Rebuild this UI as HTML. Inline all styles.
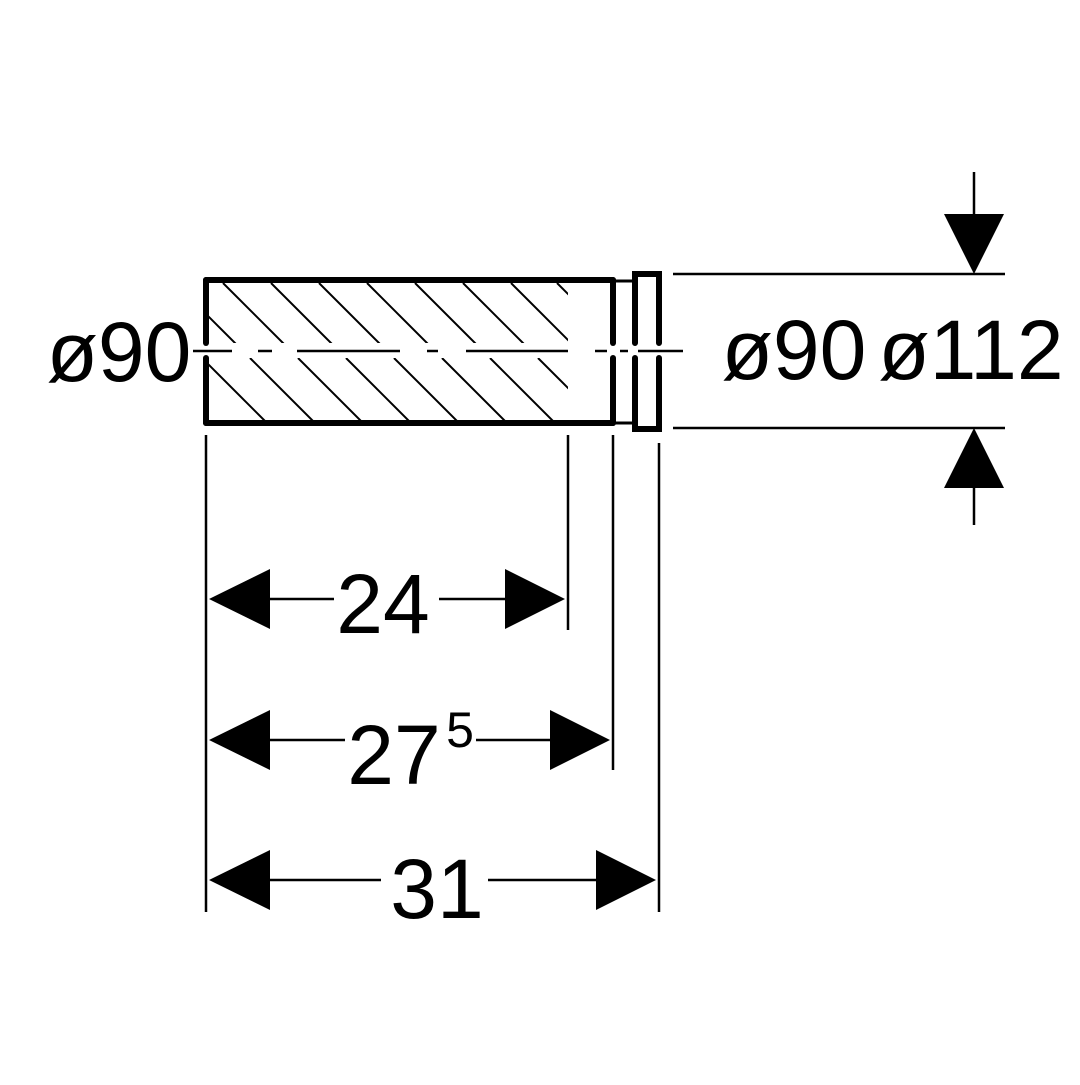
<!DOCTYPE html>
<html><head><meta charset="utf-8"><style>html,body{margin:0;padding:0;background:#fff}</style></head>
<body>
<svg width="1080" height="1080" viewBox="0 0 1080 1080" xmlns="http://www.w3.org/2000/svg" font-family="Liberation Sans, sans-serif">
<defs>
<clipPath id="up"><rect x="208" y="283" width="360" height="60"/></clipPath>
<clipPath id="lo"><rect x="208" y="358" width="360" height="62"/></clipPath>
</defs>
<g stroke="#000" stroke-width="2" fill="none" clip-path="url(#up)">
<line x1="223" y1="283" x2="403" y2="463"/>
<line x1="271" y1="283" x2="451" y2="463"/>
<line x1="319" y1="283" x2="499" y2="463"/>
<line x1="367" y1="283" x2="547" y2="463"/>
<line x1="415" y1="283" x2="595" y2="463"/>
<line x1="463" y1="283" x2="643" y2="463"/>
<line x1="511" y1="283" x2="691" y2="463"/>
<line x1="557" y1="283" x2="737" y2="463"/>
<line x1="175" y1="283" x2="355" y2="463"/>
</g>
<g stroke="#000" stroke-width="2" fill="none" clip-path="url(#lo)">
<line x1="538" y1="358" x2="638" y2="458"/>
<line x1="490" y1="358" x2="590" y2="458"/>
<line x1="442" y1="358" x2="542" y2="458"/>
<line x1="394" y1="358" x2="494" y2="458"/>
<line x1="346" y1="358" x2="446" y2="458"/>
<line x1="298" y1="358" x2="398" y2="458"/>
<line x1="250" y1="358" x2="350" y2="458"/>
<line x1="202" y1="358" x2="302" y2="458"/>
</g>
<g stroke="#000" stroke-width="6" fill="none" stroke-linecap="round">
<line x1="206" y1="280" x2="613" y2="280"/>
<line x1="206" y1="423" x2="613" y2="423"/>
<line x1="206" y1="280" x2="206" y2="343"/>
<line x1="206" y1="358" x2="206" y2="423"/>
<line x1="613" y1="280" x2="613" y2="343"/>
<line x1="613" y1="358" x2="613" y2="423"/>
<path d="M635 343 V274 H659 V343 M635 358 V429 H659 V358"/>
</g>
<g stroke="#000" stroke-width="3">
<line x1="613" y1="281" x2="635" y2="281"/>
<line x1="613" y1="423" x2="635" y2="423"/>
<line x1="193" y1="351" x2="232" y2="351" stroke-width="2.5"/>
<line x1="258" y1="351" x2="272" y2="351" stroke-width="2.5"/>
<line x1="297" y1="351" x2="400" y2="351" stroke-width="2.5"/>
<line x1="427" y1="351" x2="438" y2="351" stroke-width="2.5"/>
<line x1="466" y1="351" x2="568" y2="351" stroke-width="2.5"/>
<line x1="595" y1="351" x2="607" y2="351" stroke-width="2.5"/>
<line x1="620" y1="351" x2="628" y2="351" stroke-width="2.5"/>
<line x1="638" y1="351" x2="683" y2="351" stroke-width="2.5"/>
</g>
<g stroke="#000" stroke-width="2.5">
<line x1="206" y1="435" x2="206" y2="912"/>
<line x1="568" y1="435" x2="568" y2="630"/>
<line x1="613" y1="435" x2="613" y2="770"/>
<line x1="659" y1="443" x2="659" y2="912"/>
<line x1="270" y1="599" x2="334" y2="599"/>
<line x1="439" y1="599" x2="505" y2="599"/>
<line x1="270" y1="740" x2="345" y2="740"/>
<line x1="476" y1="740" x2="550" y2="740"/>
<line x1="270" y1="880" x2="381" y2="880"/>
<line x1="488" y1="880" x2="596" y2="880"/>
<line x1="673" y1="274" x2="1005" y2="274"/>
<line x1="673" y1="428" x2="1005" y2="428"/>
<line x1="974" y1="172" x2="974" y2="214"/>
<line x1="974" y1="488" x2="974" y2="525"/>
</g>
<g fill="#000">
<polygon points="209,599 270,569 270,629"/>
<polygon points="565,599 505,569 505,629"/>
<polygon points="209,740 270,710 270,770"/>
<polygon points="610,740 550,710 550,770"/>
<polygon points="209,880 270,850 270,910"/>
<polygon points="656,880 596,850 596,910"/>
<polygon points="974,274 944,214 1004,214"/>
<polygon points="974,428 944,488 1004,488"/>
</g>
<g font-size="84" fill="#000">
<text x="119" y="381" text-anchor="middle">ø90</text>
<text x="794" y="379" text-anchor="middle">ø90</text>
<text x="971" y="379" text-anchor="middle">ø112</text>
<text x="383" y="633" text-anchor="middle">24</text>
<text x="394" y="784" text-anchor="middle">27</text>
<text x="460" y="747" text-anchor="middle" font-size="50">5</text>
<text x="437" y="918" text-anchor="middle">31</text>
</g>
</svg>
</body></html>
